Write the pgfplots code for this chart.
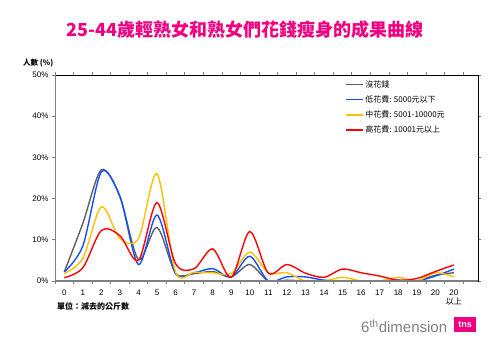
\documentclass[border=0pt]{standalone}
\usepackage{pgfplots}
\pgfplotsset{compat=1.18}
\usepackage{fontspec}
\setmainfont{Liberation Sans}
\newfontfamily\cjk{Noto Sans CJK TC}
\definecolor{tpink}{RGB}{240,0,128}
\definecolor{cgray}{RGB}{96,96,96}
\definecolor{cblue}{RGB}{20,80,255}
\definecolor{cyellow}{RGB}{255,192,0}
\definecolor{cred}{RGB}{255,0,0}
\definecolor{axgray}{RGB}{128,128,128}
\begin{document}
\begin{tikzpicture}
\useasboundingbox (0,0) rectangle (500pt,360pt);
\node[text=tpink,font=\cjk\bfseries\fontsize{18}{20}\selectfont] at (245pt,330pt) {25-44歲輕熟女和熟女們花錢瘦身的成果曲線};
\node[anchor=west,font=\cjk\bfseries\fontsize{7.5}{9}\selectfont,inner sep=0pt] at (23pt,297pt) {人數 (\%)};
\node[anchor=west,font=\cjk\bfseries\fontsize{8}{9}\selectfont,inner sep=0pt] at (57pt,54pt) {單位：減去的公斤數};
\begin{axis}[
  at={(55pt,79pt)}, anchor=south west,
  scale only axis, width=423pt, height=206pt,
  xmin=-0.5, xmax=22.3, ymin=0, ymax=50,
  axis line style={black, line width=0.6pt},
  xtick={0,...,21},
  xticklabels={0,1,2,3,4,5,6,7,8,9,10,11,12,13,14,15,16,17,18,19,20,{20\\{\cjk 以上}}},
  xticklabel style={align=center, font=\fontsize{8}{9}\selectfont, yshift=-2pt},
  minor xtick={-0.5,0.5,...,21.5},
  every major x tick/.append style={draw=none},
  ytick={0,10,20,30,40,50},
  yticklabels={0\%,10\%,20\%,30\%,40\%,50\%},
  yticklabel style={font=\fontsize{8}{9}\selectfont},
  tick align=outside,
  major tick length=3pt, minor tick length=3pt,
  tick style={axgray, line width=0.8pt},
  /pgf/number format/assume math mode=true,
  legend style={at={(0.685,0.985)}, anchor=north west, draw=none, fill=none,
    font=\cjk\fontsize{8}{9}\selectfont, row sep=3pt, inner sep=0pt},
  legend cell align=left,
  legend image code/.code={\draw[#1] (0pt,0pt) -- (17pt,0pt);},
  every axis plot/.append style={smooth, tension=0.5, line width=1.4pt, no marks},
]
\addplot[cgray] coordinates {(0,2.2)(1,14)(2,27)(3,20.5)(4,5.2)(5,13)(6,1.9)(7,1.8)(8,2.3)(9,1)(10,4)(11,0)(12,0.2)(13,0)(14,0)(15,0)(16,0)(17,0)(18,0)(19,0)(20,1.4)(21,2)};
\addlegendentry{沒花錢}
\addplot[cblue] coordinates {(0,2.2)(1,8.5)(2,26.5)(3,20.5)(4,4)(5,16)(6,1.8)(7,2)(8,3)(9,1)(10,6)(11,0)(12,1)(13,1)(14,0.2)(15,0)(16,0)(17,0)(18,0.2)(19,0)(20,1.2)(21,2.9)};
\addlegendentry{低花費: 5000元以下}
\addplot[cyellow] coordinates {(0,1.8)(1,5.5)(2,18)(3,10.3)(4,10.3)(5,26)(6,2.2)(7,2.1)(8,2)(9,1.8)(10,7)(11,2)(12,2)(13,0)(14,0)(15,0.9)(16,0)(17,0)(18,0.9)(19,0)(20,2)(21,1)};
\addlegendentry{中花費: 5001-10000元}
\addplot[cred] coordinates {(0,0.8)(1,3.2)(2,12.3)(3,11)(4,5)(5,19)(6,4.2)(7,3)(8,7.8)(9,0.9)(10,12)(11,1.9)(12,4)(13,1.9)(14,0.9)(15,2.9)(16,2)(17,1.2)(18,0.2)(19,0.6)(20,2.3)(21,3.9)};
\addlegendentry{高花費: 10001元以上}
\draw[axgray, line width=1.4pt] (rel axis cs:0,1) -- (rel axis cs:0,0) -- (rel axis cs:1,0);
\end{axis}
\node[anchor=west,text=axgray,font=\fontsize{15}{16}\selectfont,inner sep=0pt] at (361pt,34pt) {6\textsuperscript{th}dimension};
\fill[tpink] (454pt,28pt) rectangle (476pt,43pt);
\node[text=white,font=\bfseries\fontsize{9}{10}\selectfont] at (465pt,35.5pt) {tns};
\end{tikzpicture}
\end{document}
